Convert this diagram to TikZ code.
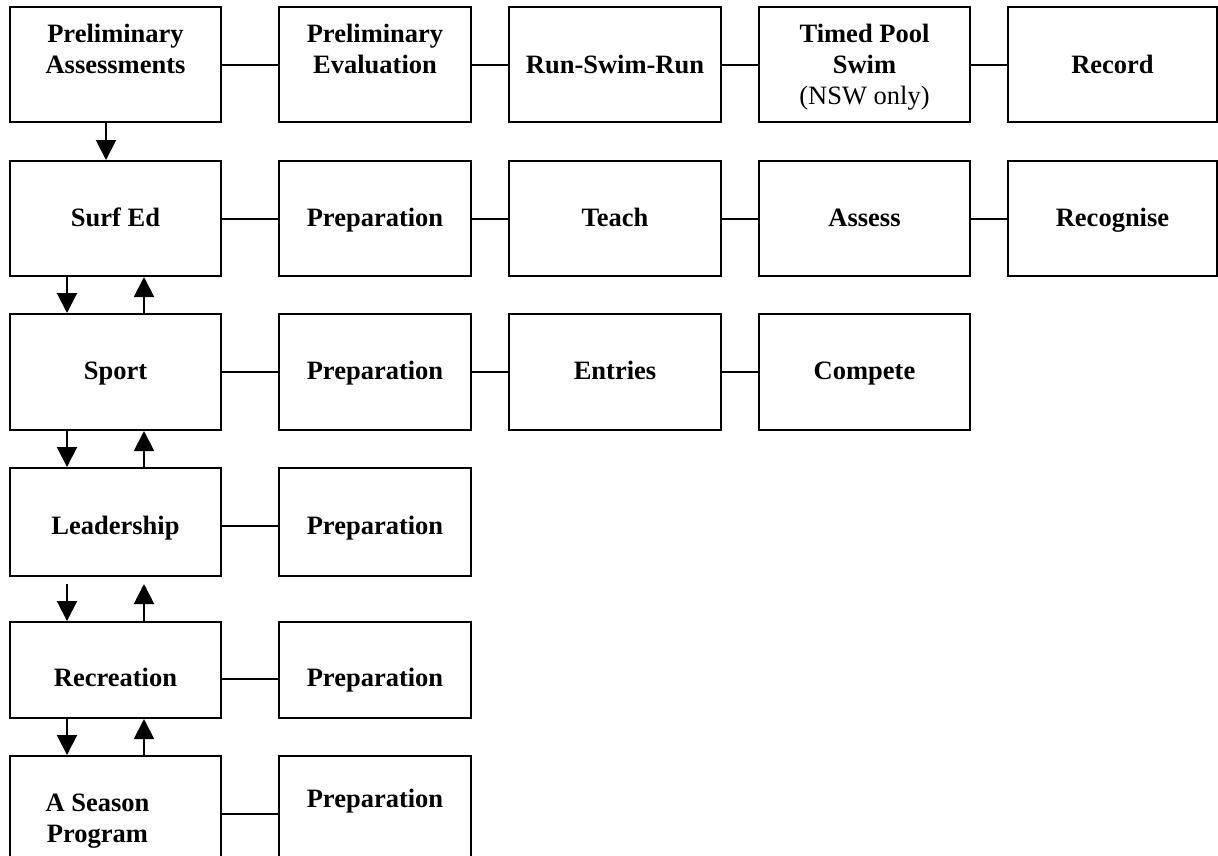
\documentclass[tikz,border=0pt]{standalone}
\usepackage{fontspec}
\setmainfont{Liberation Serif}
\usetikzlibrary{arrows.meta}
\begin{document}
\begin{tikzpicture}[x=1pt,y=-1pt,
  box/.style={draw, line width=2pt, inner sep=0pt, align=center,
    font=\fontsize{26.5}{31}\selectfont\bfseries},
  one/.style={text height=#1, text depth=5pt},
  cA/.style={minimum width=211pt},
  cB/.style={minimum width=192pt},
  cC/.style={minimum width=212pt},
  cD/.style={minimum width=211pt},
  cE/.style={minimum width=209pt},
  link/.style={line width=2pt},
  arr/.style={line width=2pt,-{Triangle[length=20pt,width=20pt]}}]
\useasboundingbox (0,0) rectangle (1218,855);
\clip (0,0) rectangle (1218,855);

% Row 1
\node[box,cA,minimum height=115pt] (pa) at (115.5,64.5) {Preliminary\\Assessments\\~};
\node[box,cB,minimum height=115pt] (pe) at (375,64.5) {Preliminary\\Evaluation\\~};
\node[box,cC,minimum height=115pt,one=23pt] (rsr) at (615,64.5) {Run-Swim-Run};
\node[box,cD,minimum height=115pt] (tps) at (864.5,64.5) {\rule{0pt}{24pt}Timed Pool\\Swim\\{\mdseries (NSW only)}};
\node[box,cE,minimum height=115pt,one=23pt] (rec1) at (1112.5,64.5) {Record};

% Row 2
\node[box,cA,minimum height=115pt,one=20pt] (surf) at (115.5,218.5) {Surf Ed};
\node[box,cB,minimum height=115pt,one=20pt] (sprep) at (375,218.5) {Preparation};
\node[box,cC,minimum height=115pt,one=20pt] (teach) at (615,218.5) {Teach};
\node[box,cD,minimum height=115pt,one=20pt] (assess) at (864.5,218.5) {Assess};
\node[box,cE,minimum height=115pt,one=20pt] (recog) at (1112.5,218.5) {Recognise};

% Row 3
\node[box,cA,minimum height=116pt,one=20pt] (sport) at (115.5,372) {Sport};
\node[box,cB,minimum height=116pt,one=20pt] (spprep) at (375,372) {Preparation};
\node[box,cC,minimum height=116pt,one=20pt] (entries) at (615,372) {Entries};
\node[box,cD,minimum height=116pt,one=20pt] (compete) at (864.5,372) {Compete};

% Row 4
\node[box,cA,minimum height=108pt,one=29pt] (lead) at (115.5,522) {Leadership};
\node[box,cB,minimum height=108pt,one=29pt] (lprep) at (375,522) {Preparation};

% Row 5
\node[box,cA,minimum height=96pt,one=37pt] (recr) at (115.5,670) {Recreation};
\node[box,cB,minimum height=96pt,one=37pt] (rprep) at (375,670) {Preparation};

% Row 6
\node[box,cA,minimum height=116pt] (season) at (115.5,814) {\rule{0pt}{32pt}\hspace*{-36pt}A Season\\\hspace*{-36pt}Program};
\node[box,cB,minimum height=116pt] (seprep) at (375,814) {Preparation\\~};

% Horizontal links
\draw[link] (pa.east) -- (pe.west);
\draw[link] (pe.east) -- (rsr.west);
\draw[link] (rsr.east) -- (tps.west);
\draw[link] (tps.east) -- (rec1.west);

\draw[link] (surf.east) -- (sprep.west);
\draw[link] (sprep.east) -- (teach.west);
\draw[link] (teach.east) -- (assess.west);
\draw[link] (assess.east) -- (recog.west);

\draw[link] (sport.east) -- (spprep.west);
\draw[link] (spprep.east) -- (entries.west);
\draw[link] (entries.east) -- (compete.west);

\draw[link] ([yshift=-4pt]lead.east) -- ([yshift=-4pt]lprep.west);
\draw[link] ([yshift=-9pt]recr.east) -- ([yshift=-9pt]rprep.west);
\draw[link] (season.east) -- (seprep.west);

% Vertical arrows
\draw[arr] ([xshift=-9.5pt]pa.south) -- ([xshift=-9.5pt]surf.north);

\draw[arr] ([xshift=-48.5pt]surf.south) -- ([xshift=-48.5pt]sport.north);
\draw[arr] ([xshift=28.5pt]sport.north) -- ([xshift=28.5pt]surf.south);

\draw[arr] ([xshift=-48.5pt]sport.south) -- ([xshift=-48.5pt]lead.north);
\draw[arr] ([xshift=28.5pt]lead.north) -- ([xshift=28.5pt]sport.south);

\draw[arr] ([xshift=-48.5pt,yshift=-7pt]lead.south) -- ([xshift=-48.5pt]recr.north);
\draw[arr] ([xshift=28.5pt]recr.north) -- ([xshift=28.5pt,yshift=-7pt]lead.south);

\draw[arr] ([xshift=-48.5pt]recr.south) -- ([xshift=-48.5pt]season.north);
\draw[arr] ([xshift=28.5pt]season.north) -- ([xshift=28.5pt]recr.south);
\end{tikzpicture}
\end{document}
